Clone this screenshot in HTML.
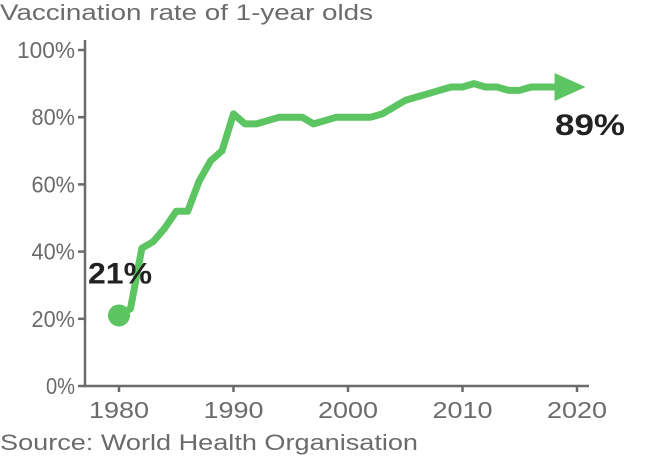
<!DOCTYPE html>
<html><head><meta charset="utf-8"><style>
body{margin:0;background:#fff;font-family:"Liberation Sans",sans-serif}
svg text{font-family:"Liberation Sans",sans-serif}
</style></head><body>
<svg width="654" height="462">
<text x="0" y="20" font-size="22" fill="#6b6b6b" textLength="373" lengthAdjust="spacingAndGlyphs">Vaccination rate of 1-year olds</text>
<g id="axes"></g>
<g id="marks"></g>
<text x="0" y="450" font-size="22" fill="#6b6b6b" textLength="418" lengthAdjust="spacingAndGlyphs">Source: World Health Organisation</text>
</svg>
<script>
const years=[1980,1981,1982,1983,1984,1985,1986,1987,1988,1989,1990,1991,1992,1993,1994,1995,1996,1997,1998,1999,2000,2001,2002,2003,2004,2005,2006,2007,2008,2009,2010,2011,2012,2013,2014,2015,2016,2017,2018,2019];
const rates=[21,23,41,43,47,52,52,61,67,70,81,78,78,79,80,80,80,78,79,80,80,80,80,81,83,85,86,87,88,89,89,90,89,89,88,88,89,89,89,89];
const yTicks=[0,20,40,60,80,100];
const xTicks=[1980,1990,2000,2010,2020];
const ns="http://www.w3.org/2000/svg";
const X=y=>119+(y-1980)*(577-119)/40;
const Y=v=>386-v*3.36;
function mk(t,a,p){const e=document.createElementNS(ns,t);for(const k in a)e.setAttribute(k,a[k]);p.appendChild(e);return e;}
const ax=document.getElementById('axes'),mg=document.getElementById('marks');
const yl=mk('line',{x1:85,y1:40,x2:85,y2:387,stroke:'#6b6b6b','stroke-width':2.5},ax);


const xl=mk('line',{x1:84,y1:386,x2:589,y2:386,stroke:'#6b6b6b','stroke-width':2.5},ax);


yTicks.forEach(v=>{
 mk('line',{x1:78,x2:85,y1:Y(v),y2:Y(v),stroke:'#6b6b6b','stroke-width':2.5},ax);
 const t=mk('text',{x:75,y:Y(v)+8,'text-anchor':'end','font-size':23,fill:'#6b6b6b',textLength:(String(v).length+1)*14.5,lengthAdjust:'spacingAndGlyphs'},ax);t.textContent=v+'%';
 
 
});
xTicks.forEach(v=>{
 mk('line',{x1:X(v),x2:X(v),y1:386,y2:392,stroke:'#6b6b6b','stroke-width':2.5},ax);
 const t=mk('text',{x:X(v),y:418,'text-anchor':'middle','font-size':23,fill:'#6b6b6b',textLength:60,lengthAdjust:'spacingAndGlyphs'},ax);t.textContent=v;
 
 
});
const last=years.length-1;
let d=years.map((y,i)=>(i?'L':'M')+X(y)+','+Y(rates[i])).join(' ');
const p=mk('path',{d:d,fill:'none',stroke:'#5cc460','stroke-width':7,'stroke-linejoin':'round'},mg);


const c=mk('circle',{cx:X(years[0]),cy:Y(rates[0]),r:11,fill:'#5cc460'},mg);


const ex=X(years[last]),ey=Y(rates[last]);
const a=mk('polygon',{points:(ex-11)+','+(ey-14)+' '+(ex+20)+','+ey+' '+(ex-11)+','+(ey+14),fill:'#5cc460'},mg);


const s=mk('text',{x:88,y:Y(rates[0])-32,'font-size':30,'font-weight':'bold',fill:'#222',textLength:64,lengthAdjust:'spacingAndGlyphs'},mg);s.textContent=rates[0]+'%';


const e=mk('text',{x:555,y:ey+48,'font-size':30,'font-weight':'bold',fill:'#222',textLength:70,lengthAdjust:'spacingAndGlyphs'},mg);e.textContent=rates[last]+'%';


</script>
</body></html>
